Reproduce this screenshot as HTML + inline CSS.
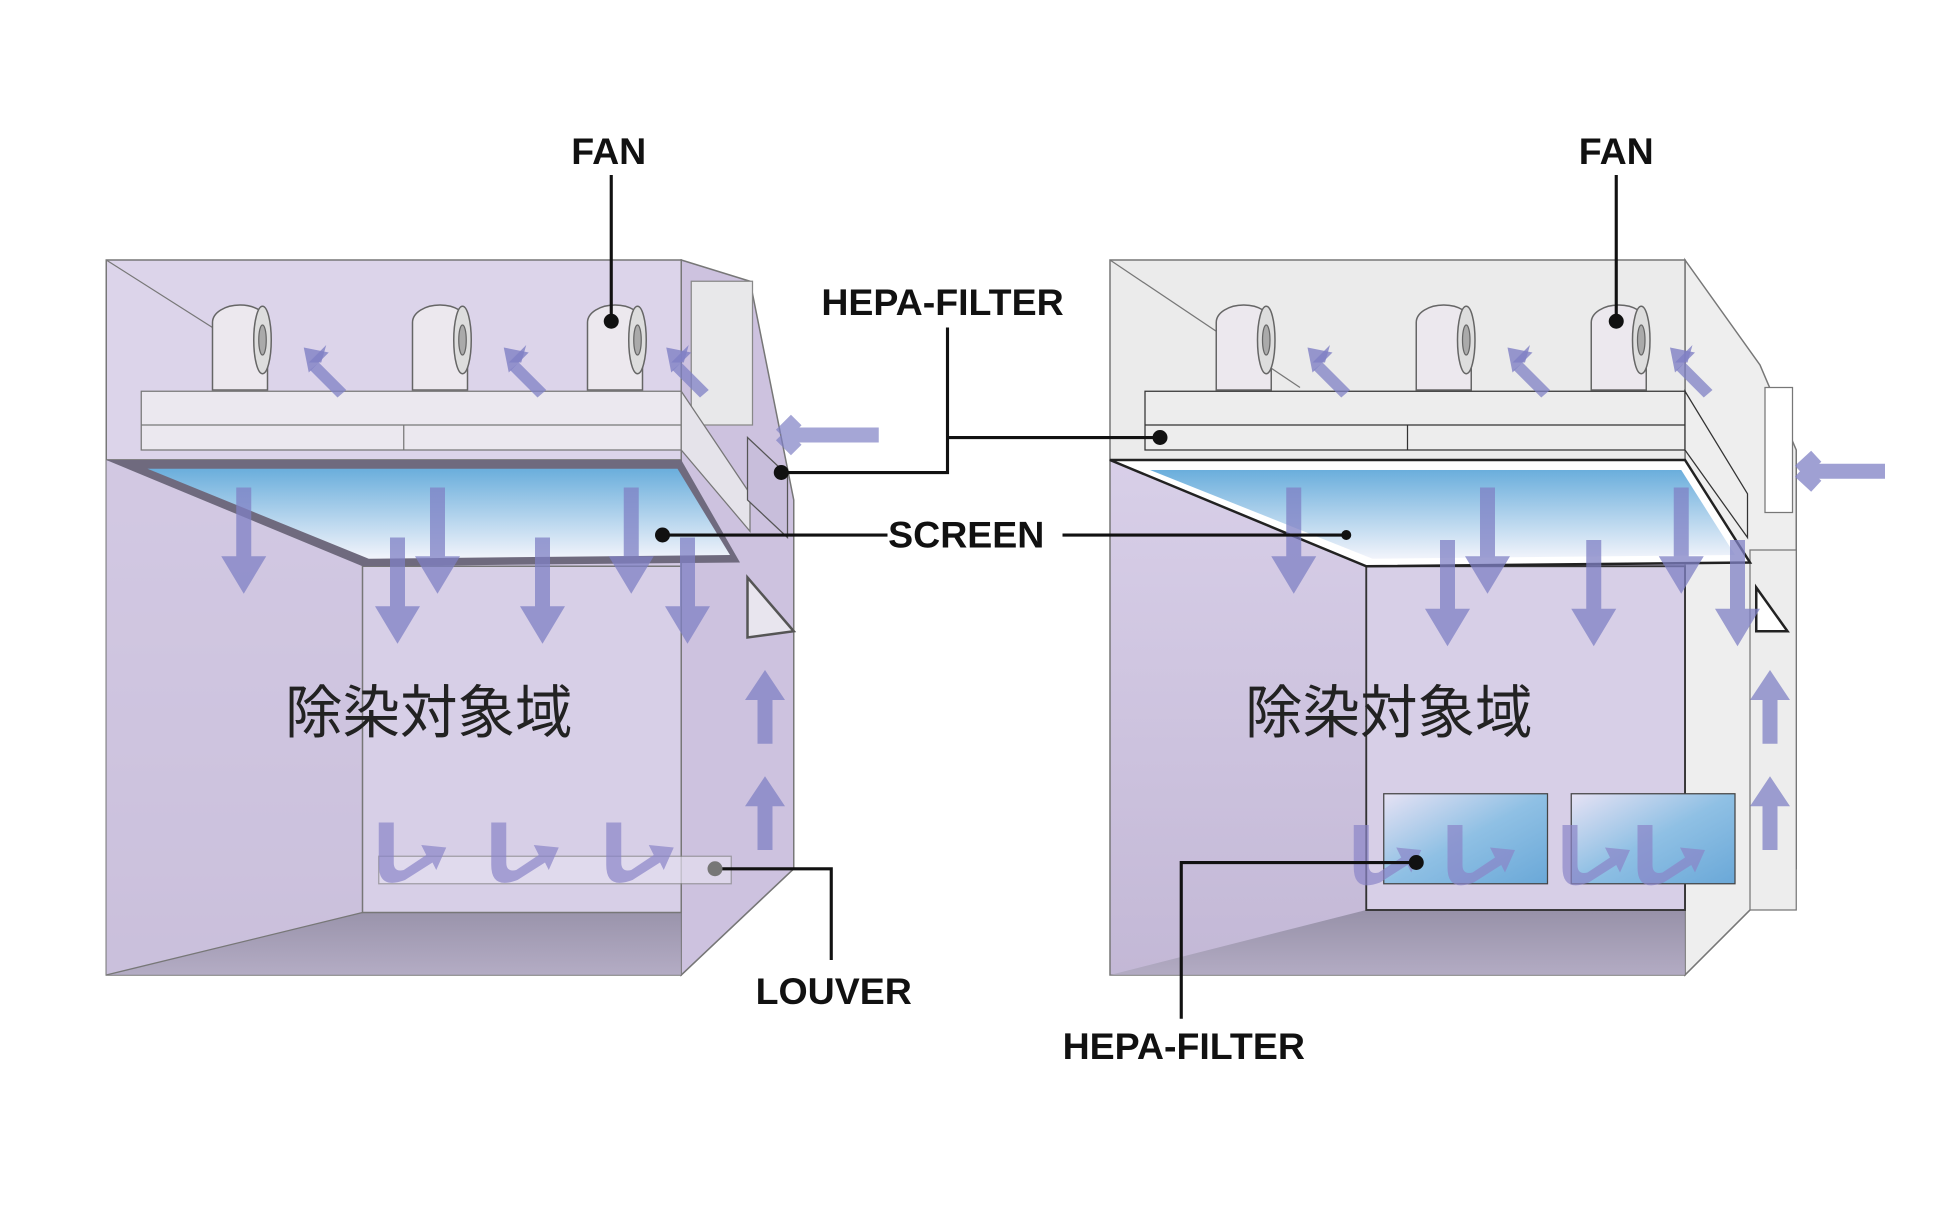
<!DOCTYPE html>
<html><head><meta charset="utf-8"><style>
html,body{margin:0;padding:0;background:#fff;}
svg{display:block;}
.lbl{font-family:"Liberation Sans",sans-serif;font-weight:bold;font-size:30px;fill:#111;}
.jp{font-family:"Liberation Sans","Noto Sans CJK JP",sans-serif;font-size:46px;fill:#222;}
</style></head><body>
<svg width="1950" height="1210" viewBox="0 0 1560 968" xmlns="http://www.w3.org/2000/svg">
<defs>
<linearGradient id="scr" x1="0" y1="0" x2="0" y2="1"><stop offset="0" stop-color="#6aaedc"/><stop offset="1" stop-color="#f2f4fb"/></linearGradient>
<linearGradient id="wall" x1="0" y1="0" x2="0" y2="1"><stop offset="0" stop-color="#d8cfe8"/><stop offset="1" stop-color="#c3b8d6"/></linearGradient>
<linearGradient id="floor" x1="0" y1="0" x2="0" y2="1"><stop offset="0" stop-color="#8f8aa0"/><stop offset="1" stop-color="#b0a9c0"/></linearGradient>
<linearGradient id="hepa" x1="0" y1="0" x2="1" y2="1"><stop offset="0" stop-color="#e6e2f4"/><stop offset="0.5" stop-color="#8fc0e4"/><stop offset="1" stop-color="#6aa8d8"/></linearGradient>
<g id="fan">
<path d="M0,312 V258 a22,14 0 0 1 44,0 V312 Z" fill="#ece8ee" stroke="#666" stroke-width="1.2"/>
<ellipse cx="40" cy="272" rx="7" ry="27" fill="#ddd" stroke="#666" stroke-width="1.2"/>
<ellipse cx="40" cy="272" rx="3" ry="12" fill="#aaa" stroke="#666"/>
</g>
<g id="dn"><path d="M-6,0 h12 v55 h12 l-18,30 l-18,-30 h12 z" fill="#7f80c4" opacity="0.75"/></g>
<g id="up"><path d="M-6,0 h12 v-35 h10 l-16,-24 l-16,24 h10 z" fill="#7f80c4" opacity="0.75"/></g>
<g id="ua"><path d="M0,0 h12 v32 q0,8 8,6 l18,-12 l-4,-8 l20,2 l-8,18 l-3,-6 l-22,14 q-21,8 -21,-12 z" fill="#8a84c8" opacity="0.7"/></g>
<g id="ul"><path d="M-8,0 l14,-14 l-4,14 z" fill="#7f80c4" opacity="0.8"/><path d="M0,0 l22,22 l-7,6 l-22,-22 z" fill="#7f80c4" opacity="0.75"/><path d="M-12,-12 l20,4 l-16,16 z" fill="#7f80c4" opacity="0.8"/></g>
</defs>

<!-- LEFT UNIT -->
<g>
<polygon points="545,208 600,225 635,400 635,695 545,780" fill="#cdc2df" stroke="#777" stroke-width="1.2"/>
<polygon points="553,225 602,225 602,340 553,340" fill="#e8e8ea" stroke="#888"/>
<rect x="85" y="208" width="460" height="160" fill="#dcd4ea" stroke="#777" stroke-width="1.2"/>
<rect x="85" y="368" width="460" height="412" fill="url(#wall)" stroke="#777" stroke-width="1.2"/>
<polygon points="85,780 290,730 545,730 545,780" fill="url(#floor)" opacity="0.8"/>
<polygon points="85,368 290,453 290,730 85,780" fill="#cfc5e0" opacity="0.6"/>
<rect x="290" y="453" width="255" height="277" fill="#d7cfe7" stroke="#777" stroke-width="1.2"/>
<line x1="85" y1="780" x2="290" y2="730" stroke="#777"/>
<line x1="85" y1="208" x2="170" y2="262" stroke="#777"/>
<line x1="545" y1="780" x2="635" y2="695" stroke="#777"/>
<use href="#fan" x="170"/><use href="#fan" x="330"/><use href="#fan" x="470"/>
<rect x="113" y="313" width="432" height="47" fill="#ebe8ef" stroke="#777"/>
<line x1="113" y1="340" x2="545" y2="340" stroke="#777"/>
<line x1="323" y1="340" x2="323" y2="360" stroke="#777"/>
<polygon points="545,313 600,395 600,425 545,360" fill="#e5e3ea" stroke="#777"/>
<polygon points="85,368 545,368 592,450 290,453" fill="#6f6a7e"/>
<polygon points="118,375 542,375 584,444 295,447" fill="url(#scr)"/>
<polygon points="598,462 635,505 598,510" fill="#e8e5ee" stroke="#555" stroke-width="2"/>
<polygon points="598,350 630,380 630,430 598,400" fill="#c8bedb" stroke="#555"/>
<use href="#ul" x="255" y="290"/><use href="#ul" x="415" y="290"/><use href="#ul" x="545" y="290"/>
<use href="#dn" x="195" y="390"/><use href="#dn" x="350" y="390"/><use href="#dn" x="505" y="390"/>
<use href="#dn" x="318" y="430"/><use href="#dn" x="434" y="430"/><use href="#dn" x="550" y="430"/>
<use href="#up" x="612" y="595"/><use href="#up" x="612" y="680"/>
<rect x="303" y="685" width="282" height="22" fill="#e4dff0" opacity="0.7" stroke="#888"/>
<use href="#ua" x="303" y="658"/><use href="#ua" x="393" y="658"/><use href="#ua" x="485" y="658"/>
<path d="M625,348 h72 v-6 M625,348 l12,-12 M625,348 l12,12" stroke="#7f80c4" stroke-width="12" fill="none" opacity="0.7"/>
<text x="228" y="586" class="jp">除染対象域</text>
</g>

<!-- RIGHT UNIT -->
<g>
<polygon points="1348,208 1408,292 1437,360 1437,695 1400,728 1348,780" fill="#eeeeee" stroke="#777" stroke-width="1.2"/>
<rect x="1412" y="310" width="22" height="100" fill="#fff" stroke="#777"/>
<rect x="888" y="208" width="460" height="160" fill="#ebebeb" stroke="#777" stroke-width="1.2"/>
<rect x="888" y="368" width="460" height="412" fill="url(#wall)" stroke="#777" stroke-width="1.2"/>
<polygon points="888,780 1093,728 1348,728 1348,780" fill="url(#floor)" opacity="0.85"/>
<rect x="1093" y="453" width="255" height="275" fill="#d7cfe7" stroke="#333" stroke-width="1.5"/>
<line x1="888" y1="208" x2="1040" y2="310" stroke="#777"/>
<line x1="1348" y1="780" x2="1400" y2="728" stroke="#777"/>
<rect x="1400" y="440" width="37" height="288" fill="#ededed" stroke="#777"/>
<use href="#fan" x="973"/><use href="#fan" x="1133"/><use href="#fan" x="1273"/>
<rect x="916" y="313" width="432" height="47" fill="#ededed" stroke="#333"/>
<line x1="916" y1="340" x2="1348" y2="340" stroke="#333"/>
<line x1="1126" y1="340" x2="1126" y2="360" stroke="#333"/>
<polygon points="1348,313 1398,395 1398,430 1348,360" fill="#eee" stroke="#333"/>
<polygon points="888,368 1348,368 1400,450 1093,453" fill="#fff" stroke="#222" stroke-width="2"/>
<polygon points="920,376 1345,376 1388,444 1098,447" fill="url(#scr)"/>
<polygon points="1405,470 1430,505 1405,505" fill="#fff" stroke="#222" stroke-width="2"/>
<use href="#ul" x="1058" y="290"/><use href="#ul" x="1218" y="290"/><use href="#ul" x="1348" y="290"/>
<use href="#dn" x="1035" y="390"/><use href="#dn" x="1190" y="390"/><use href="#dn" x="1345" y="390"/>
<use href="#dn" x="1158" y="432"/><use href="#dn" x="1275" y="432"/><use href="#dn" x="1390" y="432"/>
<use href="#up" x="1416" y="595"/><use href="#up" x="1416" y="680"/>
<rect x="1107" y="635" width="131" height="72" fill="url(#hepa)" stroke="#444"/>
<rect x="1257" y="635" width="131" height="72" fill="url(#hepa)" stroke="#444"/>
<use href="#ua" x="1083" y="660"/><use href="#ua" x="1158" y="660"/><use href="#ua" x="1250" y="660"/><use href="#ua" x="1310" y="660"/>
<path d="M1440,377 h68 M1440,377 l13,-12 M1440,377 l13,12" stroke="#7f80c4" stroke-width="12" fill="none" opacity="0.75"/>
<text x="996" y="586" class="jp">除染対象域</text>
</g>

<!-- LABELS & LEADERS -->
<g stroke="#111" stroke-width="2.5" fill="none">
<path d="M489,140 V257"/>
<path d="M758,262 V378 H625"/>
<path d="M758,350 H928"/>
<path d="M530,428 H710"/>
<path d="M850,428 H1077"/>
<path d="M572,695 H665 V768"/>
<path d="M1293,140 V257"/>
<path d="M1133,690 H945 V815"/>
</g>
<g fill="#111">
<circle cx="489" cy="257" r="6"/><circle cx="625" cy="378" r="6"/><circle cx="928" cy="350" r="6"/>
<circle cx="530" cy="428" r="6"/><circle cx="1077" cy="428" r="4"/><circle cx="572" cy="695" r="6" fill="#777"/>
<circle cx="1293" cy="257" r="6"/><circle cx="1133" cy="690" r="6"/>
</g>
<text x="487" y="131" class="lbl" text-anchor="middle">FAN</text>
<text x="1293" y="131" class="lbl" text-anchor="middle">FAN</text>
<text x="754" y="252" class="lbl" text-anchor="middle">HEPA-FILTER</text>
<text x="773" y="438" class="lbl" text-anchor="middle">SCREEN</text>
<text x="667" y="803" class="lbl" text-anchor="middle">LOUVER</text>
<text x="947" y="847" class="lbl" text-anchor="middle">HEPA-FILTER</text>
</svg>
</body></html>
